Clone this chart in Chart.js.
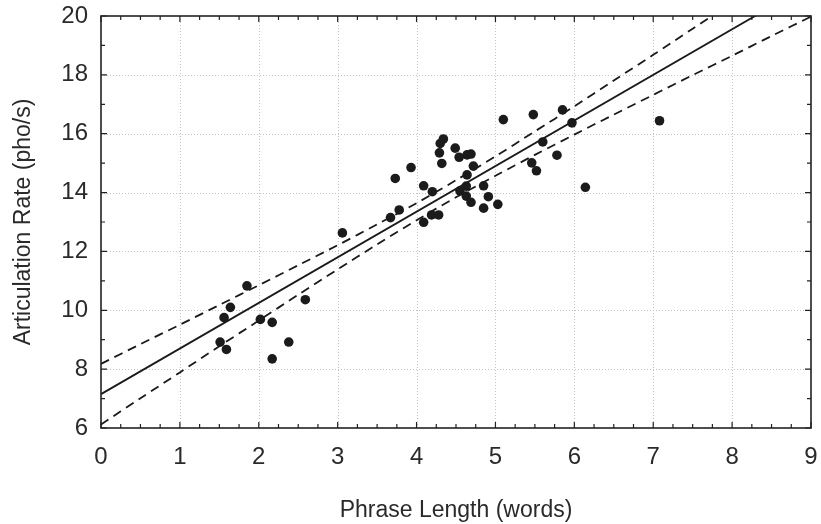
<!DOCTYPE html>
<html>
<head>
<meta charset="utf-8">
<script src="https://cdn.jsdelivr.net/npm/chart.js@4/dist/chart.umd.min.js"></script>
<style>
  body { margin: 0; background: #fff; }
  canvas { display: block; }
</style>
</head>
<body>
<canvas id="chart" width="821" height="524"></canvas>
<script>
// observed points
const phraseLength = [1.51, 1.59, 1.56, 1.64, 1.85, 2.02, 2.17, 2.17, 2.38, 2.59,
    3.06, 3.67, 3.78, 3.73, 3.93, 4.09, 4.19, 4.28, 4.09, 4.20,
    4.34, 4.30, 4.29, 4.32, 4.49, 4.54, 4.64, 4.69, 4.72, 4.64,
    4.63, 4.55, 4.63, 4.69, 4.85, 4.91, 4.85, 5.03, 5.10, 5.46,
    5.52, 5.60, 5.78, 5.48, 5.85, 5.97, 7.08, 6.14];
const articRate = [8.92, 8.67, 9.75, 10.10, 10.83, 9.69, 9.59, 8.35, 8.92, 10.36,
    12.63, 13.15, 13.41, 14.48, 14.85, 12.99, 13.24, 13.24, 14.23, 14.03,
    15.82, 15.67, 15.35, 14.99, 15.51, 15.20, 15.28, 15.31, 14.90, 14.60,
    14.22, 14.06, 13.88, 13.67, 14.23, 13.86, 13.47, 13.60, 16.48, 15.01,
    14.74, 15.72, 15.27, 16.65, 16.81, 16.37, 16.44, 14.18];

// fitted line and confidence band
const fitX = [0, 9];
const fitY = [7.15, 21.10];
const bandX = [0, 0.5, 1, 1.5, 2, 2.5, 3, 3.5, 4, 4.5, 5, 5.5, 6, 6.5, 7, 7.5, 8, 8.5, 9];
const bandUpper = [8.18, 8.85, 9.51, 10.18, 10.85, 11.53, 12.21, 12.92, 13.64, 14.42,
    15.23, 16.08, 16.93, 17.81, 18.68, 19.57, 20.45, 21.34, 22.22];
const bandLower = [6.12, 7.01, 7.89, 8.78, 9.65, 10.53, 11.39, 12.24, 13.06, 13.84,
    14.57, 15.28, 15.97, 16.65, 17.32, 17.99, 18.65, 19.32, 19.98];

// axes
const xTicks = [0, 1, 2, 3, 4, 5, 6, 7, 8, 9];
const yTicks = [6, 8, 10, 12, 14, 16, 18, 20];

const pairs = (xs, ys) => xs.map((v, i) => ({ x: v, y: ys[i] }));

// dotted grid, frame and inward tick marks
const frameBox = {
    id: 'frameBox',
    beforeDatasetsDraw(chart) {
        const { ctx, chartArea: { left, right, top, bottom }, scales: { x, y } } = chart;
        ctx.save();
        ctx.strokeStyle = '#c4c4c4';
        ctx.lineWidth = 1;
        ctx.setLineDash([1, 2]);
        ctx.beginPath();
        xTicks.slice(1, -1).forEach(v => {
            const px = Math.round(x.getPixelForValue(v)) + 0.5;
            ctx.moveTo(px, top);
            ctx.lineTo(px, bottom);
        });
        yTicks.slice(1, -1).forEach(v => {
            const py = Math.round(y.getPixelForValue(v)) + 0.5;
            ctx.moveTo(left, py);
            ctx.lineTo(right, py);
        });
        ctx.stroke();
        ctx.restore();
    },
    afterDatasetsDraw(chart) {
        const { ctx, chartArea: { left, right, top, bottom }, scales: { x, y } } = chart;
        ctx.save();
        ctx.strokeStyle = '#222';
        ctx.lineWidth = 1.2;
        ctx.beginPath();
        for (let v = 0; v <= 9.001; v += 0.25) {
            const px = x.getPixelForValue(v);
            const len = Number.isInteger(v) ? 6 : 4;
            ctx.moveTo(px, bottom); ctx.lineTo(px, bottom - len);
            ctx.moveTo(px, top); ctx.lineTo(px, top + len);
        }
        for (let v = 6; v <= 20; v += 1) {
            const py = y.getPixelForValue(v);
            const len = v % 2 === 0 ? 6 : 4;
            ctx.moveTo(left, py); ctx.lineTo(left + len, py);
            ctx.moveTo(right, py); ctx.lineTo(right - len, py);
        }
        ctx.stroke();
        ctx.lineWidth = 1.6;
        ctx.strokeRect(left, top, right - left, bottom - top);
        ctx.restore();
    }
};

const lineStyle = { showLine: true, pointRadius: 0, borderColor: '#1a1a1a', borderWidth: 1.8, fill: false, tension: 0 };

new Chart(document.getElementById('chart'), {
    type: 'scatter',
    data: {
        datasets: [
            { label: 'Upper', data: pairs(bandX, bandUpper), ...lineStyle, borderDash: [9, 6], tension: 0.3 },
            { label: 'Lower', data: pairs(bandX, bandLower), ...lineStyle, borderDash: [9, 6], tension: 0.3 },
            { label: 'Fit', data: pairs(fitX, fitY), ...lineStyle },
            {
                label: 'Phrases',
                data: pairs(phraseLength, articRate),
                pointRadius: 4.8,
                pointBackgroundColor: '#1b1b1b',
                pointBorderWidth: 0,
                showLine: false
            }
        ]
    },
    options: {
        responsive: false,
        animation: false,
        layout: { padding: { top: 16, right: 10, left: 0, bottom: 0 } },
        plugins: { legend: { display: false }, tooltip: { enabled: false } },
        scales: {
            x: {
                type: 'linear', min: 0, max: 9,
                afterFit(scale) {
                    scale.height = 96;
                    scale.paddingLeft = 0;
                    scale.paddingRight = 0;
                },
                afterBuildTicks(scale) { scale.ticks = xTicks.map(v => ({ value: v })); },
                grid: { display: false, drawTicks: false },
                border: { display: false },
                ticks: { padding: 15, color: '#2a2a2a', font: { family: 'Liberation Sans', size: 24 } },
                title: {
                    display: true, text: 'Phrase Length (words)', color: '#2a2a2a',
                    padding: { top: 0, bottom: 0 },
                    font: { family: 'Liberation Sans', size: 23 }
                }
            },
            y: {
                type: 'linear', min: 6, max: 20,
                afterFit(scale) {
                    scale.width = 101;
                    scale.paddingTop = 0;
                    scale.paddingBottom = 0;
                },
                afterBuildTicks(scale) { scale.ticks = yTicks.map(v => ({ value: v })); },
                grid: { display: false, drawTicks: false },
                border: { display: false },
                ticks: { padding: 13, color: '#2a2a2a', font: { family: 'Liberation Sans', size: 24 } },
                title: {
                    display: true, text: 'Articulation Rate (pho/s)', color: '#2a2a2a',
                    padding: { top: 10, bottom: 0 },
                    font: { family: 'Liberation Sans', size: 23 }
                }
            }
        }
    },
    plugins: [frameBox]
});
</script>
</body>
</html>
